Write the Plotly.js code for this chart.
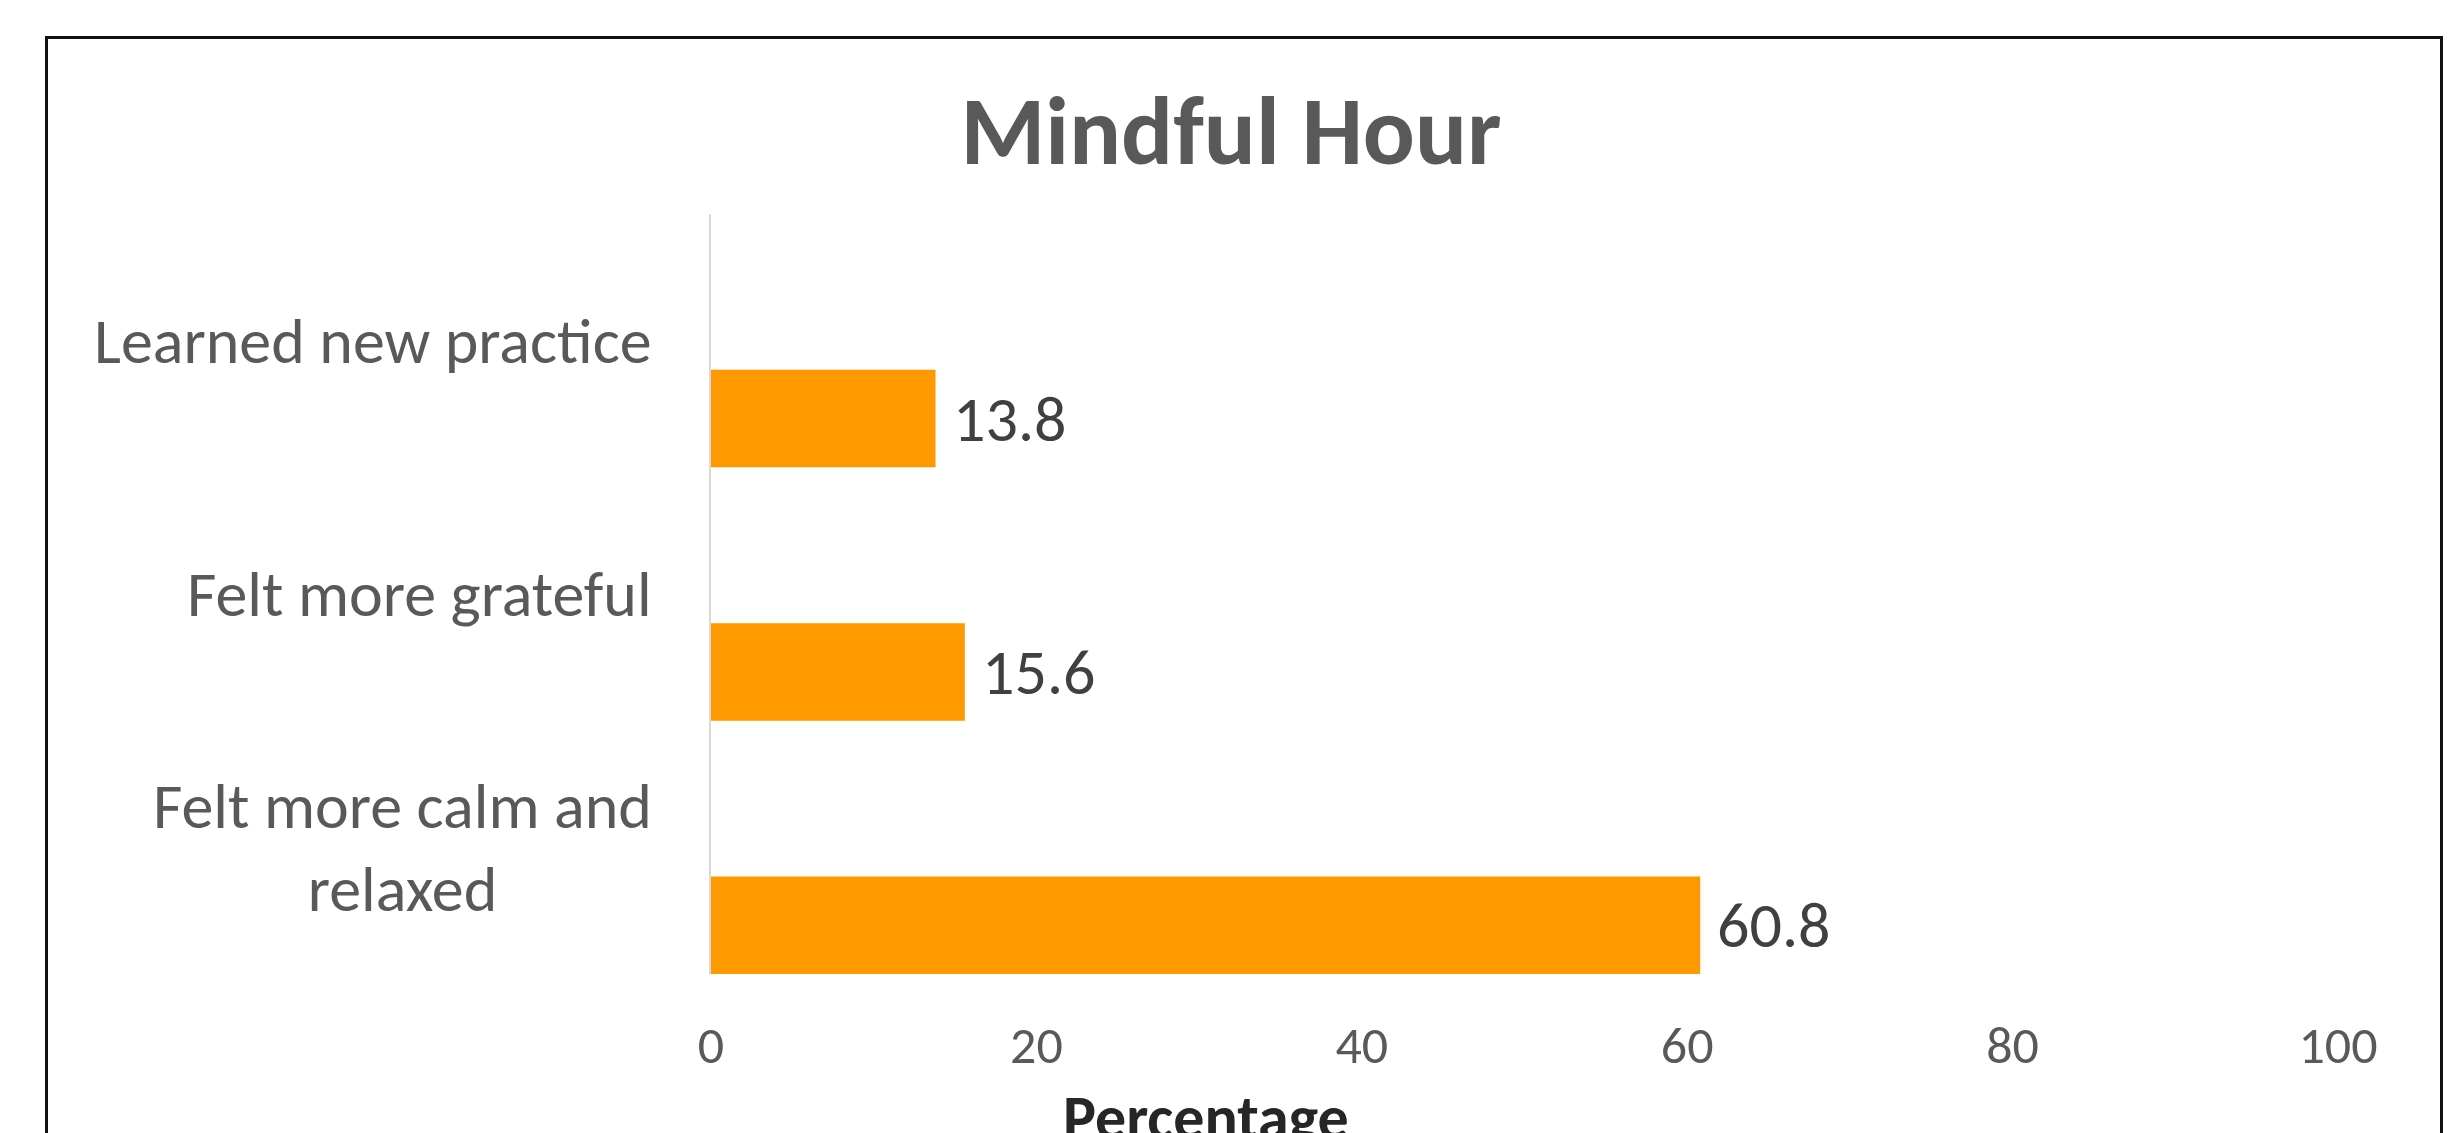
<!DOCTYPE html>
<html>
<head>
<meta charset="utf-8">
<script src="https://cdn.plot.ly/plotly-3.0.1.min.js"></script>
<style>
  html, body { margin: 0; padding: 0; background: #fff; overflow: hidden; }
  #wrap { position: relative; width: 2462px; height: 1133px; }
  #chart { position: absolute; left: 0; top: 0; width: 2462px; height: 1133px; }
  #frame { position: absolute; left: 45px; top: 36px; width: 2398px; height: 1200px;
           border: 3px solid #111; box-sizing: border-box; pointer-events: none; }
</style>
</head>
<body>
<div id="wrap">
  <div id="chart"></div>
  <div id="frame"></div>
</div>
<script>
// ---- data ----
const chartTitle = "Mindful Hour";
const axisTitle = "Percentage";
const categories = ["Felt more calm and relaxed", "Felt more grateful", "Learned new practice"];
const categoryLabels = ["Felt more calm and<br>relaxed", "Felt more grateful", "Learned new practice"];
const values = [60.8, 15.6, 13.8];
const xTicks = [0, 20, 40, 60, 80, 100];

// ---- style ----
const FONT = "Calibri, Carlito, Lato, sans-serif";
const barWidth = 0.385;
const barOffset = -0.5;

const trace = {
  type: "bar",
  orientation: "h",
  x: values,
  y: categories,
  width: barWidth,
  offset: barOffset,
  marker: { color: "#FF9900", line: { width: 0 } },
  hoverinfo: "skip"
};

const annotations = [];
categories.forEach((c, i) => {
  annotations.push({
    xref: "paper", yref: "y", x: 0, y: c, xshift: -57,
    xanchor: "right", yanchor: "middle", align: "center",
    text: categoryLabels[i], showarrow: false,
    font: { family: FONT, size: 64, color: "#595959" }
  });
  annotations.push({
    xref: "x", yref: "y", x: values[i], y: i + barOffset + barWidth / 2, xshift: 15,
    xanchor: "left", yanchor: "middle",
    text: String(values[i]), showarrow: false,
    font: { family: FONT, size: 64, color: "#404040" }
  });
});
annotations.push({
  xref: "paper", yref: "paper", x: 0.304, y: -0.19,
  xanchor: "center", yanchor: "middle",
  text: "<b>" + axisTitle + "</b>", showarrow: false,
  font: { family: FONT, size: 62, color: "#262626" }
});

const layout = {
  width: 2462, height: 1133,
  margin: { l: 711, r: 124, t: 214, b: 159, pad: 0 },
  paper_bgcolor: "#ffffff",
  plot_bgcolor: "#ffffff",
  showlegend: false,
  title: {
    text: "<b>" + chartTitle + "</b>",
    x: 0.5, xref: "container", xanchor: "center",
    y: 1 - 130 / 1133, yref: "container", yanchor: "middle",
    font: { family: FONT, size: 97, color: "#595959" }
  },
  xaxis: {
    range: [0, 100], tickvals: xTicks, ticktext: xTicks.map(String),
    showgrid: false, zeroline: false, showline: false, ticks: "",
    ticklabelstandoff: 36,
    tickfont: { family: FONT, size: 52, color: "#595959" },
    fixedrange: true
  },
  yaxis: {
    type: "category", categoryorder: "array", categoryarray: categories,
    range: [-0.5, 2.5],
    showgrid: false, zeroline: false,
    showline: true, linecolor: "#D9D9D9", linewidth: 2,
    showticklabels: false, ticks: "",
    fixedrange: true
  },
  annotations: annotations
};

Plotly.newPlot("chart", [trace], layout, { displayModeBar: false, staticPlot: true });
</script>
</body>
</html>
